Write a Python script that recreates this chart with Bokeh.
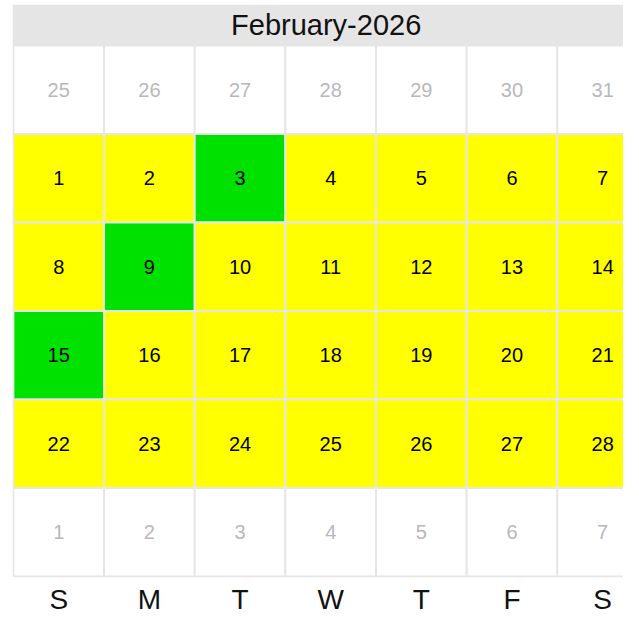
from bokeh.plotting import figure
from bokeh.models import ColumnDataSource, Range1d, FixedTicker, BoxAnnotation, Label
from bokeh.core.properties import value
from bokeh.embed import file_html
from bokeh.resources import INLINE

month_title = "February-2026"
weekday_labels = ["S", "M", "T", "W", "T", "F", "S"]
day_numbers = [25, 26, 27, 28, 29, 30, 31,
               1, 2, 3, 4, 5, 6, 7,
               8, 9, 10, 11, 12, 13, 14,
               15, 16, 17, 18, 19, 20, 21,
               22, 23, 24, 25, 26, 27, 28,
               1, 2, 3, 4, 5, 6, 7]
in_month = [False] * 7 + [True] * 28 + [False] * 7
green_days = [3, 9, 15]

FONT = "Liberation Sans"
YELLOW = "#ffff00"
GREEN = "#00e100"
BORDER = "#e6e6e6"

cols, rows, fills, tcolors, texts = [], [], [], [], []
for i, (d, m) in enumerate(zip(day_numbers, in_month)):
    cols.append(i % 7)
    rows.append(i // 7 + 0.5)
    texts.append(str(d))
    if m:
        fills.append(GREEN if d in green_days else YELLOW)
        tcolors.append("#000000")
    else:
        fills.append("#ffffff")
        tcolors.append("#b8b8bc")

src = ColumnDataSource(dict(x=cols, y=rows, fill=fills, tc=tcolors, t=texts))

x0, x1 = -0.51, 6.23
band_top = -0.462
p = figure(width=623, height=617, output_backend="svg", toolbar_location=None,
           x_range=Range1d(x0, x1), y_range=Range1d(6.01, band_top),
           min_border_left=12, min_border_right=0, min_border_top=4, min_border_bottom=40,
           y_axis_location=None)
p.outline_line_color = None
p.grid.visible = False
p.background_fill_color = "#ffffff"

band = BoxAnnotation(top=band_top, bottom=0, fill_color="#e5e5e5", fill_alpha=1.0, line_color=None)
p.add_layout(band)

p.rect(x="x", y="y", width=1, height=1, source=src, fill_color="fill",
       line_color=BORDER, line_width=2)
p.text(x="x", y="y", text="t", source=src, text_color="tc",
       text_font=value(FONT), text_font_size="20px",
       text_align="center", text_baseline="middle")

title = Label(x=(x0 + 6.41) / 2, y=band_top / 2, text=month_title, text_font=FONT,
              text_font_size="29px", text_align="center", text_baseline="middle",
              text_color="#111111")
p.add_layout(title)

ax = p.xaxis[0]
ax.ticker = FixedTicker(ticks=list(range(7)))
ax.major_label_overrides = {i: lab for i, lab in enumerate(weekday_labels)}
ax.major_label_text_font = FONT
ax.major_label_text_font_size = "28px"
ax.major_label_text_color = "#111111"
ax.major_label_standoff = 6
ax.major_tick_out = 0
ax.major_tick_in = 0
ax.minor_tick_out = 0
ax.minor_tick_in = 0
ax.axis_line_color = None

open("out.html", "w").write(file_html(p, INLINE))
